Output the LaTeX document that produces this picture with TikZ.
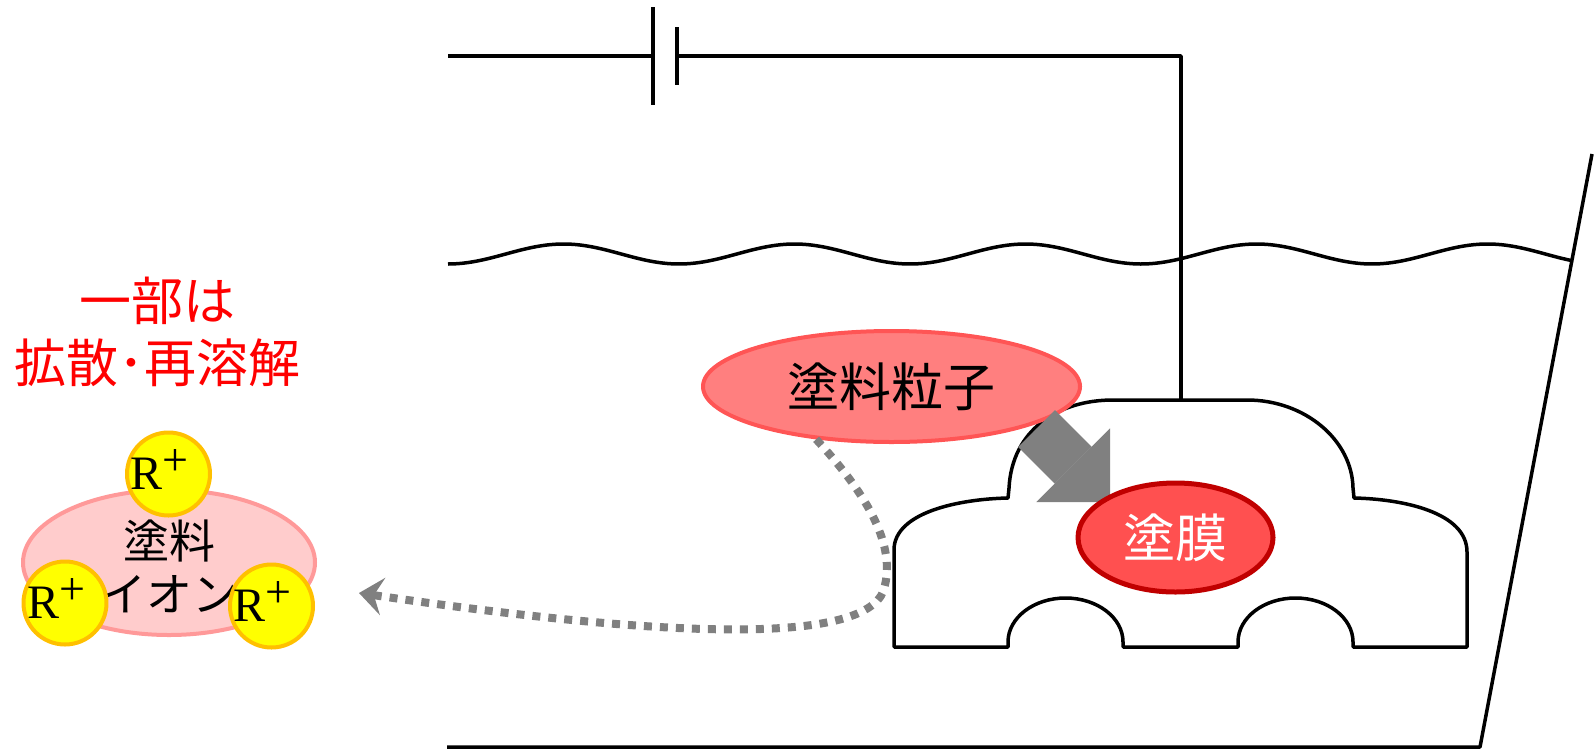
\documentclass[tikz,border=0pt]{standalone}
\usepackage{fontspec}
\setmainfont{Liberation Serif}
\newfontfamily\jpfont{Noto Sans CJK JP}
\usepackage{tikz}
\usetikzlibrary{arrows.meta,shapes.geometric}
\definecolor{paintfill}{HTML}{FF7F7F}
\definecolor{paintline}{HTML}{FF5555}
\definecolor{filmfill}{HTML}{FF5050}
\definecolor{filmline}{HTML}{C00000}
\definecolor{ionfill}{HTML}{FFCCCC}
\definecolor{ionline}{HTML}{FF9999}
\definecolor{plusfill}{HTML}{FFFF00}
\definecolor{plusline}{HTML}{FFC000}
\definecolor{flowgray}{HTML}{808080}
\definecolor{notered}{HTML}{FF0000}
\newcommand\rplus{R\raisebox{14pt}[0pt][0pt]{\fontsize{46}{46}\selectfont +}}

\begin{document}
\begin{tikzpicture}[x=1pt,y=-1pt,line join=round,
   wire/.style={line width=3.5pt},
   plate/.style={line width=4.5pt},
   blob/.style={ellipse,draw,inner sep=0pt,line width=4pt},
   rion/.style={circle,draw=plusline,fill=plusfill,line width=4pt,minimum size=83pt,
     inner sep=0pt,font=\fontsize{48}{48}\selectfont,execute at end node=\kern18pt},
   flow/.style={draw=flowgray,line width=52pt,-{Triangle[length=52pt,width=104pt,line width=0pt]}},
   drift/.style={draw=flowgray,line width=8pt,dash pattern=on 8pt off 8pt,
     -{Stealth[length=24pt,width=38pt,inset=9pt,line width=0pt]}}]
  \useasboundingbox (0,0) rectangle (1594,750);

  % supply, bath and liquid surface
  \coordinate (roof) at (1181,400);
  \draw[wire] (448,56) -- (653,56);
  \draw[plate] (653,7) -- (653,105);
  \draw[plate] (677,27) -- (677,85);
  \draw[wire] (677,56) -- (1181,56) -- (roof);
  \draw[wire] plot[domain=448:1572,samples=160,smooth] (\x,{254+10*cos(1.5584*(\x-448))});
  \draw[wire] (447,747) -- (1480,747) -- (1592,154);

  % car body
  \draw[wire,fill=white] (894,647) -- (894,550) .. controls (894,512) and (960,499) .. (1008,498)
    -- (1009,488) .. controls (1012,430) and (1058,400) .. (1113,400) -- (1247,400)
    .. controls (1305,400) and (1352,440) .. (1353,488) -- (1354,498)
    .. controls (1402,499) and (1467,512) .. (1467,552) -- (1467,647) -- (1353,647)
    -- (1353,642) arc[start angle=0,end angle=-180,x radius=57.5,y radius=44] -- (1238,647)
    -- (1123,647) -- (1123,642) arc[start angle=0,end angle=-180,x radius=57.5,y radius=44]
    -- (1008,647) -- cycle;

  \node[blob,draw=paintline,fill=paintfill,minimum width=377pt,minimum height=111pt,
        font=\jpfont\fontsize{52}{52}\selectfont] (particle) at (891.5,386.5) {塗料粒子};
  \coordinate (flowA) at (1036.5,428.5);
  \coordinate (flowB) at (1110,502);
  \draw[flow] (flowA) -- (flowB);
  \node[blob,draw=filmline,fill=filmfill,line width=5pt,minimum width=195pt,minimum height=109pt,
        text=white,font=\jpfont\fontsize{52}{52}\selectfont] (film) at (1175.5,537.5) {塗膜};

  \coordinate (driftEnd) at (359,593);
  \draw[drift] (particle.-145) .. controls (865,492) and (895,542) .. (885,585)
    .. controls (876,645) and (680,640) .. (driftEnd);

  % ion cluster on the left
  \node[font=\jpfont\fontsize{52}{62}\selectfont,text=notered,align=center] (note) at (157.5,332)
        {一部は\\拡散･再溶解};
  \node[blob,draw=ionline,fill=ionfill,minimum width=292pt,minimum height=145pt] (ion) at (169,562.5) {};
  \node[font=\jpfont\fontsize{46}{53}\selectfont,align=center] (ionname) at (169,566) {塗料\\イオン};
  \node[rion] (rtop) at (168.5,474) {\rplus};
  \node[rion] (rleft) at (65,603) {\rplus};
  \node[rion] (rright) at (271.5,606) {\rplus};
\end{tikzpicture}
\end{document}
